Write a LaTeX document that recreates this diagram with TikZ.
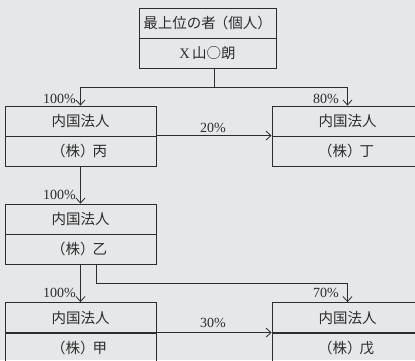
\documentclass[tikz,border=0pt]{standalone}
\usepackage{fontspec}
\setmainfont{Liberation Serif}
\newfontfamily\jp{Noto Sans CJK JP}
\usetikzlibrary{arrows.meta}
\definecolor{bg}{RGB}{230,231,233}
\definecolor{ln}{RGB}{45,45,45}
\newcommand{\kab}[1]{\kern-3pt（株）\kern-2pt#1}
\tikzset{
  half/.style={draw=ln, line width=0.8pt, minimum height=30pt, inner sep=0pt, font=\jp\fontsize{14.5}{15}\selectfont, text=ln},
  topw/.style={half, minimum width=137pt},
  sidew/.style={half, minimum width=151pt},
  pct/.style={inner sep=0pt, font=\fontsize{14}{14}\selectfont, text=ln},
  conn/.style={draw=ln, line width=0.8pt},
  arr/.style={conn, -{Straight Barb[length=5pt,width=9pt]}}
}
\begin{document}
\begin{tikzpicture}[x=1pt,y=-1pt]
\fill[bg] (0,0) rectangle (415,360);
\useasboundingbox (0,0) rectangle (415,360);
\begin{scope}
\clip (0,0) rectangle (415,360);
% top box
\node[topw] (x1) at (207.5,23) {最上位の者\kern-2pt（個人）};
\node[topw] (x2) at (207.5,53) {{\fontspec{Liberation Serif}X}\,山○朗};
% left column
\node[sidew] (b1) at (80.5,121) {内国法人};
\node[sidew] (b2) at (80.5,151) {\kab{丙}};
\node[sidew] (o1) at (80.5,219) {内国法人};
\node[sidew] (o2) at (80.5,249) {\kab{乙}};
\node[sidew] (k1) at (80.5,317.5) {内国法人};
\node[sidew] (k2) at (80.5,348) {\kab{甲}};
% right column
\node[sidew] (d1) at (347.5,121) {内国法人};
\node[sidew] (d2) at (347.5,151) {\kab{丁}};
\node[sidew] (w1) at (347.5,317.5) {内国法人};
\node[sidew] (w2) at (347.5,348) {\kab{戊}};
% connectors
\coordinate (j) at (214,87);
\draw[conn] (x2.south -| j) -- (j);
\draw[arr] (j) -| (b1.north);
\draw[arr] (j) -| (d1.north);
\draw[arr] (b2.north east) -- (d2.north west);
\draw[arr] (b2.south) -- (o1.north);
\draw[arr] (o2.south) -- (k1.north);
\coordinate (o2r) at (96,264);
\coordinate (bend) at (96,283);
\draw[arr] (o2r) -- (bend) -| (w1.north);
\draw[arr] (k2.north east) -- (w2.north west);
\end{scope}
% labels
\node[pct, anchor=base east] (l1) at (76,103) {100\%};
\node[pct, anchor=base east] (l2) at (339,103) {80\%};
\node[pct, anchor=base] (l3) at (213,132) {20\%};
\node[pct, anchor=base east] (l4) at (76,199) {100\%};
\node[pct, anchor=base east] (l5) at (76,297) {100\%};
\node[pct, anchor=base east] (l6) at (339,297) {70\%};
\node[pct, anchor=base] (l7) at (213,327) {30\%};
\end{tikzpicture}
\end{document}
